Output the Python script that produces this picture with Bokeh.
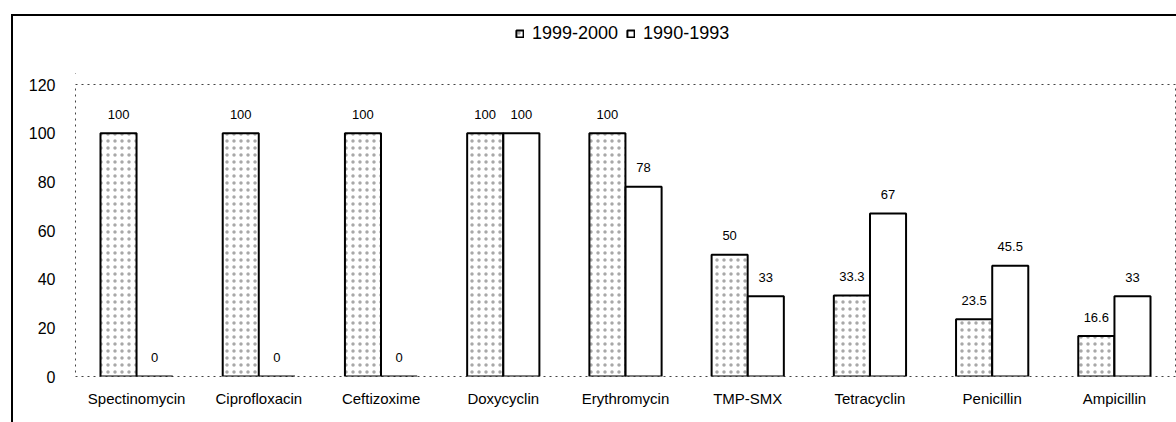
from bokeh.plotting import figure
from bokeh.layouts import column
from bokeh.models import (ColumnDataSource, FactorRange, Range1d, FixedTicker,
                          LabelSet, Legend, LegendItem)
from bokeh.core.properties import value
from bokeh.transform import dodge
from bokeh.embed import file_html
from bokeh.resources import INLINE

categories = ["Spectinomycin", "Ciprofloxacin", "Ceftizoxime", "Doxycyclin",
              "Erythromycin", "TMP-SMX", "Tetracyclin", "Penicillin", "Ampicillin"]
series_names = ["1999-2000", "1990-1993"]
values_1999_2000 = [100, 100, 100, 100, 100, 50, 33.3, 23.5, 16.6]
values_1990_1993 = [0, 0, 0, 100, 78, 33, 67, 45.5, 33]
y_ticks = [0, 20, 40, 60, 80, 100, 120]

FONT = "Liberation Sans"

src = ColumnDataSource(dict(
    cat=categories,
    a=values_1999_2000,
    b=values_1990_1993,
    a_lbl=[f"{v:g}" for v in values_1999_2000],
    b_lbl=[f"{v:g}" for v in values_1990_1993],
))

bar1_style = dict(fill_color="white", line_color="black", line_width=2,
                  hatch_pattern="dot", hatch_scale=7, hatch_color="#a8a8a8", hatch_weight=1)
bar2_style = dict(fill_color="white", line_color="black", line_width=2)

# main chart
p = figure(width=1163, height=348, x_range=FactorRange(*categories, range_padding=0),
           y_range=Range1d(0, 120), output_backend="svg", toolbar_location=None,
           title=None,
           min_border_left=62, min_border_top=10, min_border_bottom=46, min_border_right=1)

off = 0.148
w = 0.295
p.vbar(x=dodge("cat", -off, range=p.x_range), top="a", width=w, source=src, **bar1_style)
p.vbar(x=dodge("cat", off, range=p.x_range), top="b", width=w, source=src, **bar2_style)

for col, lbl, d in (("a", "a_lbl", -off), ("b", "b_lbl", off)):
    p.add_layout(LabelSet(x=dodge("cat", d, range=p.x_range), y=col, text=lbl, source=src,
                          y_offset=19, text_align="center", text_baseline="middle",
                          text_font=value(FONT), text_font_size=value("13px"),
                          text_color=value("black")))

p.xgrid.grid_line_color = None
p.ygrid.grid_line_color = None
p.outline_line_color = "#444444"
p.outline_line_dash = "dotted"
p.outline_line_width = 1

p.yaxis.ticker = FixedTicker(ticks=y_ticks)
for ax in (p.xaxis[0], p.yaxis[0]):
    ax.axis_line_color = None
    ax.major_tick_line_color = None
    ax.minor_tick_line_color = None
    ax.major_label_text_font = FONT
    ax.major_label_text_color = "black"
p.yaxis.major_label_text_font_size = "16px"
p.yaxis.major_label_standoff = 14
p.xaxis.major_label_text_font_size = "15px"
p.xaxis.major_label_standoff = 7

# legend strip above the chart (its frame is aligned with the chart's frame)
lg = figure(width=1163, height=58, x_range=Range1d(0, 1), y_range=Range1d(0, 1),
            output_backend="svg", toolbar_location=None, title=None,
            x_axis_type=None, y_axis_type=None, min_border=0)
lg.outline_line_color = None
lg.xgrid.grid_line_color = None
lg.ygrid.grid_line_color = None
# legend-only renderers, their single bar lies outside the strip's visible range
dummy = ColumnDataSource(dict(x=[-10], top=[-10]))
d1 = lg.vbar(x="x", top="top", width=0.1, source=dummy, **bar1_style)
d2 = lg.vbar(x="x", top="top", width=0.1, source=dummy, **bar2_style)
legend = Legend(items=[LegendItem(label=series_names[0], renderers=[d1]),
                       LegendItem(label=series_names[1], renderers=[d2])],
                orientation="horizontal", location=(440, 30),
                glyph_width=9, glyph_height=9, label_standoff=8, spacing=8,
                padding=0, margin=0, border_line_color=None, background_fill_alpha=0,
                label_text_font=FONT, label_text_font_size="18px", label_text_color="black")
lg.add_layout(legend, "center")

layout = column(lg, p, spacing=0,
                styles={"border-left": "2px solid black", "border-top": "2px solid black",
                        "margin-left": "11px", "margin-top": "14px"})

open("out.html", "w").write(file_html(layout, INLINE))
